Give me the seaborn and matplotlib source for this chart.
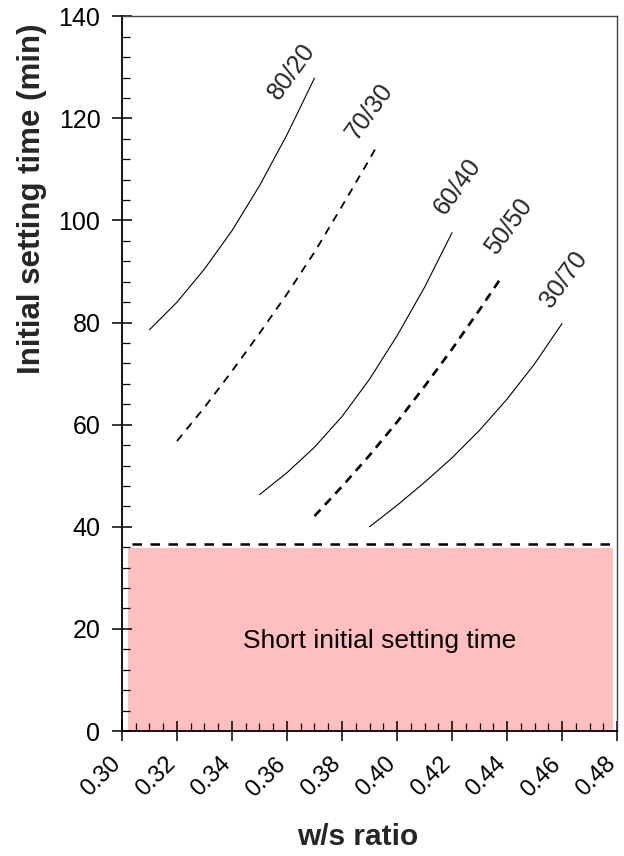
import matplotlib
matplotlib.use("Agg")
import matplotlib.pyplot as plt
import seaborn as sns
import pandas as pd
from matplotlib.patches import Rectangle
from matplotlib.ticker import MultipleLocator

sns.set_theme(style="white")
plt.rcParams["font.family"] = ["Liberation Sans", "DejaVu Sans"]

# Binder ratio series: w/s ratio vs initial setting time (min)
ws_8020 = [0.31, 0.32, 0.33, 0.34, 0.35, 0.36, 0.37]
t_8020 = [78.6, 84.0, 90.5, 98.0, 106.8, 116.8, 127.9]

ws_7030 = [0.32, 0.33, 0.34, 0.35, 0.36, 0.37, 0.38, 0.39, 0.3925]
t_7030 = [56.8, 63.4, 70.5, 77.9, 85.6, 93.8, 102.8, 112.0, 114.4]

ws_6040 = [0.35, 0.36, 0.37, 0.38, 0.39, 0.40, 0.41, 0.42]
t_6040 = [46.3, 50.6, 55.6, 61.6, 68.9, 77.4, 86.9, 97.6]

ws_5050 = [0.37, 0.38, 0.39, 0.40, 0.41, 0.42, 0.43, 0.4375]
t_5050 = [42.1, 47.9, 54.0, 60.5, 67.5, 74.8, 82.5, 88.5]

ws_3070 = [0.39, 0.40, 0.41, 0.42, 0.43, 0.44, 0.45, 0.46]
t_3070 = [40.0, 44.2, 48.7, 53.5, 58.9, 65.0, 71.9, 79.8]

series_names = ["80/20", "70/30", "60/40", "50/50", "30/70"]
series_ws = [ws_8020, ws_7030, ws_6040, ws_5050, ws_3070]
series_t = [t_8020, t_7030, t_6040, t_5050, t_3070]

# label anchor positions (data coords)
label_x = [0.3618, 0.3899, 0.4221, 0.4405, 0.4608]
label_y = [129.2, 121.3, 106.7, 98.9, 88.4]

threshold_time = 36.7
short_zone_top = 35.9
short_zone_label = "Short initial setting time"

x_ticks = [0.30, 0.32, 0.34, 0.36, 0.38, 0.40, 0.42, 0.44, 0.46, 0.48]
y_ticks = [0, 20, 40, 60, 80, 100, 120, 140]

styles = {
    "80/20": dict(ls="-", lw=0.8),
    "70/30": dict(ls=(0, (4.5, 3.8)), lw=1.3),
    "60/40": dict(ls="-", lw=0.8),
    "50/50": dict(ls=(0, (3.3, 2.5)), lw=1.9),
    "30/70": dict(ls="-", lw=0.8),
}

frames = []
for name, xs, ts in zip(series_names, series_ws, series_t):
    frames.append(pd.DataFrame({"ws": xs, "time": ts, "mix": name}))
df = pd.concat(frames, ignore_index=True)

fig = plt.figure(figsize=(6.24, 8.56), dpi=100)
ax = fig.add_axes([0.1955, 0.146, 0.7933, 0.835])

# shaded region for short setting time
ax.add_patch(Rectangle((0.3022, 0), 0.4785 - 0.3022, short_zone_top,
                       facecolor="#ffbfbf", edgecolor="none", zorder=0))
ax.text(0.3935, 17.6, short_zone_label, ha="center", va="center",
        fontsize=19, color="black")

ax.axhline(threshold_time, xmin=0.02, xmax=1.0, color="black",
           lw=1.8, ls=(0, (3.8, 3.4)), zorder=3)

for name in series_names:
    sub = df[df["mix"] == name]
    st = styles[name]
    sns.lineplot(data=sub, x="ws", y="time", ax=ax, color="black",
                 linewidth=st["lw"], linestyle=st["ls"], legend=False,
                 estimator=None, sort=True)

for name, lx, ly in zip(series_names, label_x, label_y):
    ax.text(lx, ly, name, rotation=54, ha="center", va="center",
            fontsize=18, rotation_mode="anchor")

ax.set_xlim(0.30, 0.48)
ax.set_ylim(0, 140)
ax.set_xticks(x_ticks)
ax.set_xticklabels([f"{v:.2f}" for v in x_ticks], rotation=45,
                   ha="right", va="baseline", rotation_mode="anchor")
ax.set_yticks(y_ticks)
ax.set_yticklabels([str(v) for v in y_ticks])
ax.xaxis.set_minor_locator(MultipleLocator(0.005))
ax.yaxis.set_minor_locator(MultipleLocator(4))

ax.tick_params(axis="both", which="major", direction="inout", length=15,
               width=1.1, color="black", labelcolor="black",
               bottom=True, left=True)
ax.tick_params(axis="both", which="minor", direction="in", length=6,
               width=0.9, color="black", bottom=True, left=True)
ax.tick_params(axis="x", which="major", pad=17, labelsize=17)
ax.tick_params(axis="y", which="major", pad=8, labelsize=18)

for side in ["left", "bottom"]:
    ax.spines[side].set_color("black")
    ax.spines[side].set_linewidth(1.3)
for side in ["top", "right"]:
    ax.spines[side].set_color("#444444")
    ax.spines[side].set_linewidth(1.0)

ax.set_xlabel("w/s ratio", fontsize=21.5, fontweight="bold")
ax.set_ylabel("Initial setting time (min)", fontsize=22.5, fontweight="bold")
ax.xaxis.label.set_va("center")
ax.yaxis.label.set_va("center")
ax.xaxis.set_label_coords(0.477, -0.148)
ax.yaxis.set_label_coords(-0.182, 0.745)

fig.savefig("out.png", dpi=100)
